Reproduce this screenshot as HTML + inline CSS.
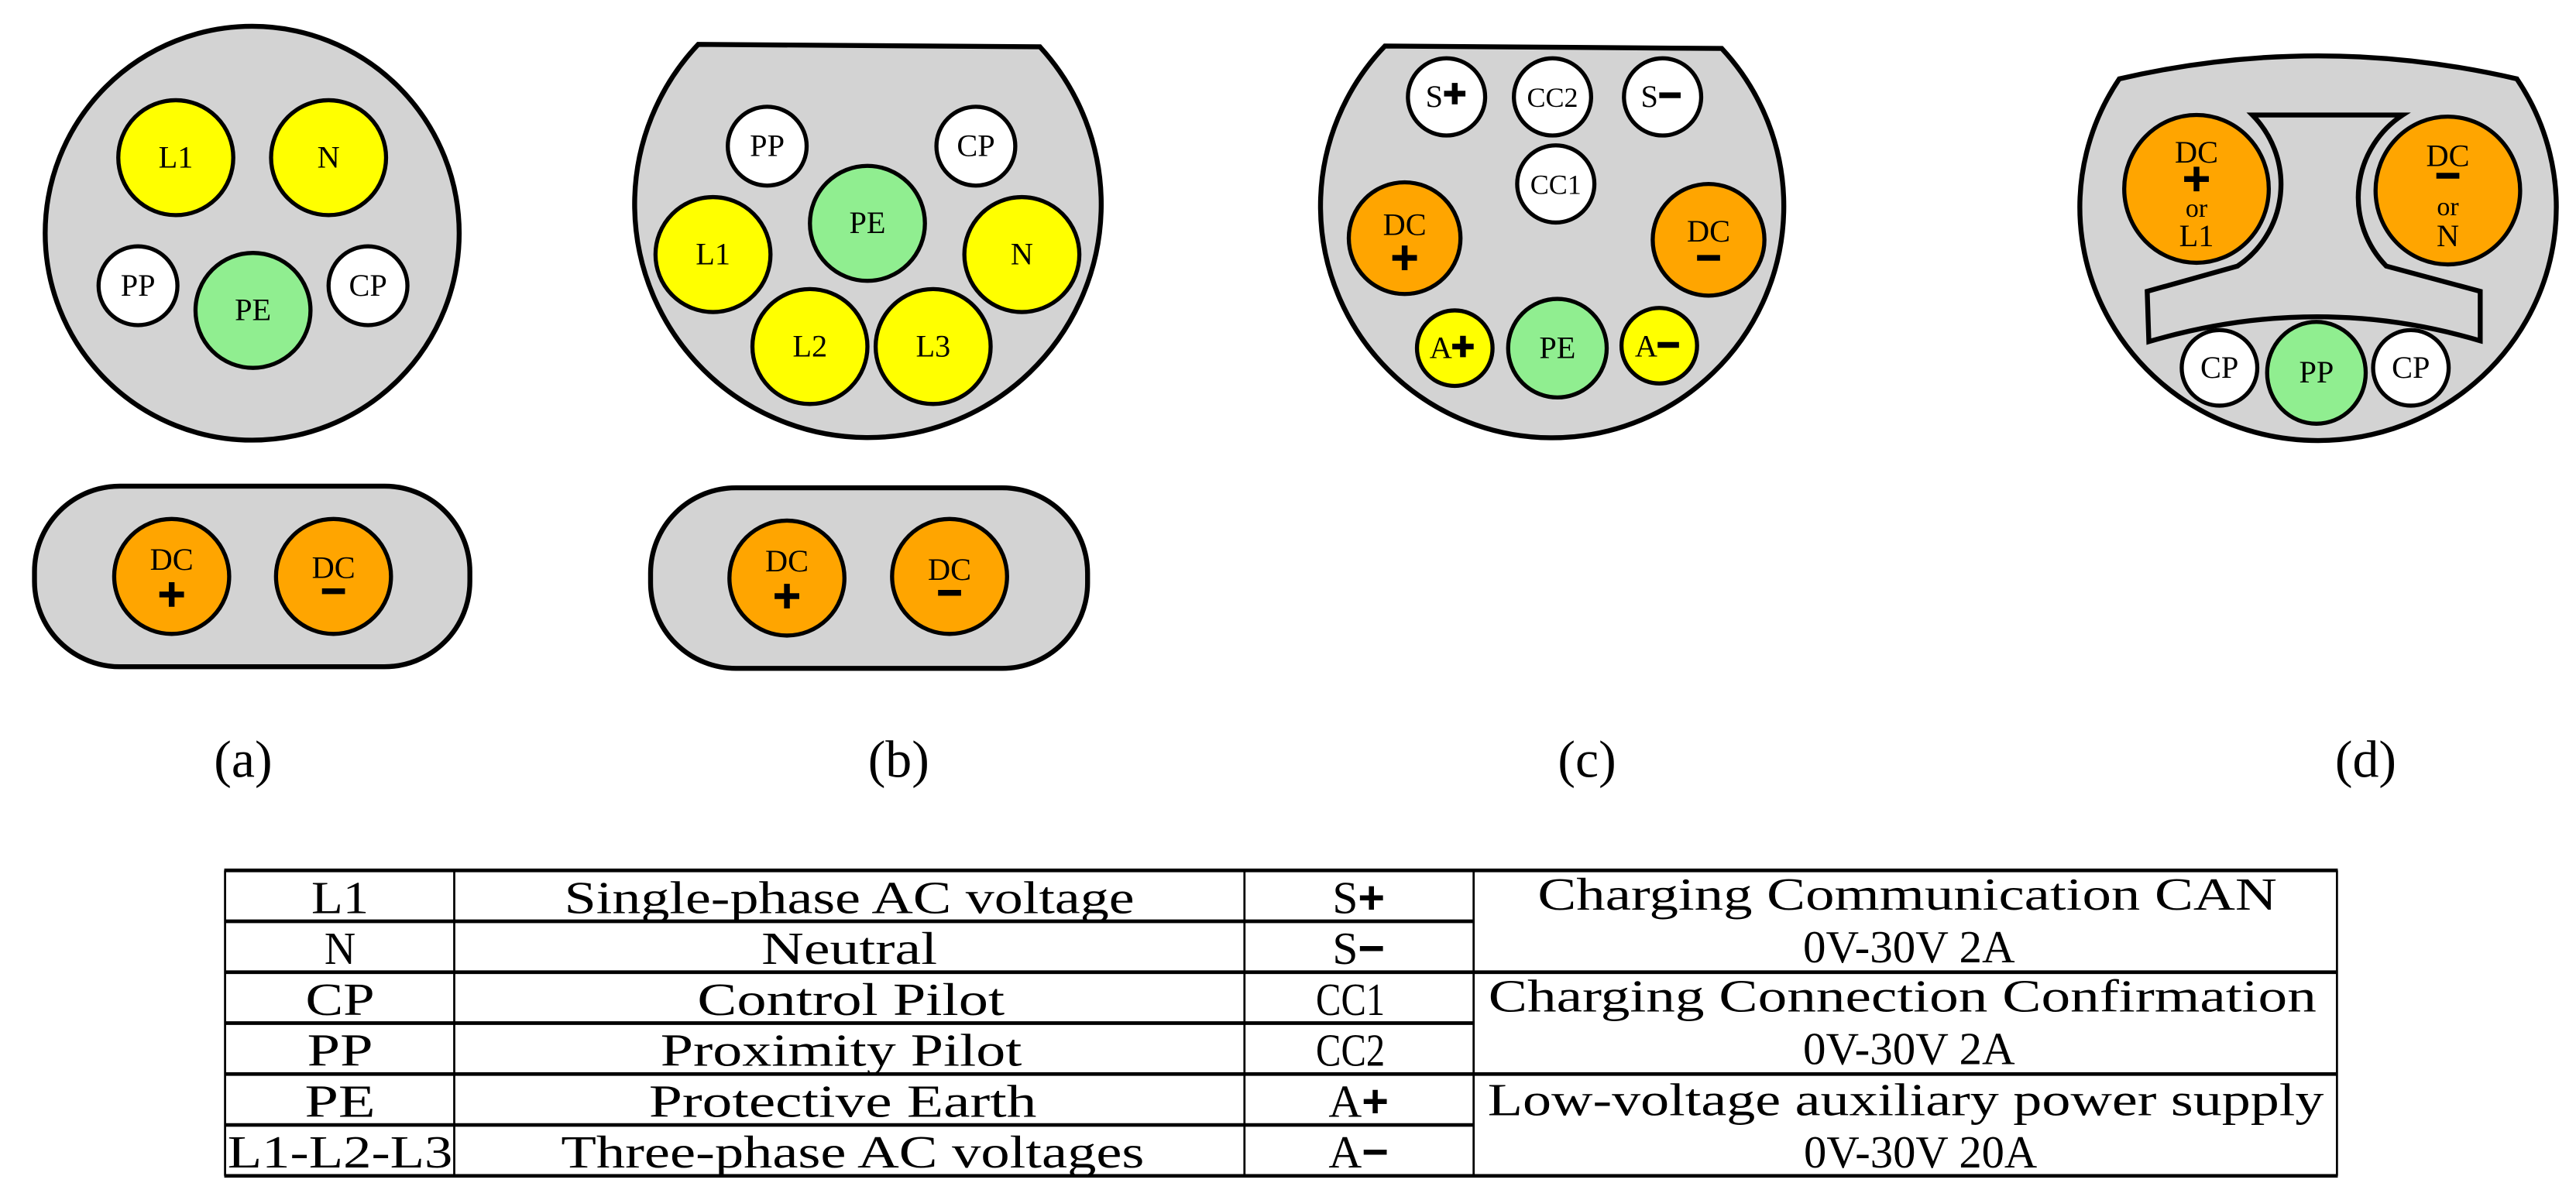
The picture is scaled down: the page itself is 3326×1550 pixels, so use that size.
<!DOCTYPE html>
<html><head><meta charset="utf-8"><style>
html,body{margin:0;padding:0;background:#fff}
svg{display:block}
text{font-family:"Liberation Serif",serif;fill:#000}
</style></head><body>
<svg width="3326" height="1550" viewBox="0 0 1568 730.7" xmlns="http://www.w3.org/2000/svg">
<g stroke="#000" stroke-width="3">
<circle cx="153.5" cy="142" r="126" fill="#d3d3d3"/>
<rect x="21" y="296" width="265" height="110" rx="52" ry="52" fill="#d3d3d3"/>
<path d="M425 27 L633 28.5 A142 142 0 1 1 425 27 Z" fill="#d3d3d3"/>
<rect x="396" y="297" width="266" height="110" rx="52" ry="52" fill="#d3d3d3"/>
<path d="M843 28 L1048 29.5 A141 141 0 1 1 843 28 Z" fill="#d3d3d3"/>
<path d="M1290 48 Q1411 20 1532 48 A145 142 0 1 1 1290 48 Z" fill="#d3d3d3"/>
<path d="M1371 70 L1462.5 70 A60 60 0 0 0 1452.5 162 L1509.7 177.4 L1509.7 207.5 Q1410 178 1308 208 L1307 177.4 L1362 162 A60 60 0 0 0 1371 70 Z" fill="#d3d3d3"/>
</g>
<g stroke="#000" stroke-width="2.5">
<circle cx="107" cy="96" r="35" fill="#ffff00"/>
<circle cx="200" cy="96" r="35" fill="#ffff00"/>
<circle cx="84" cy="174" r="24" fill="#fff"/>
<circle cx="154" cy="189" r="35" fill="#90ee90"/>
<circle cx="224" cy="174" r="24" fill="#fff"/>
<circle cx="104.5" cy="351" r="35" fill="#ffa500"/>
<circle cx="203" cy="351" r="35" fill="#ffa500"/>
<circle cx="467" cy="89" r="24" fill="#fff"/>
<circle cx="594" cy="89" r="24" fill="#fff"/>
<circle cx="528" cy="136" r="35" fill="#90ee90"/>
<circle cx="434" cy="155" r="35" fill="#ffff00"/>
<circle cx="622" cy="155" r="35" fill="#ffff00"/>
<circle cx="493" cy="211" r="35" fill="#ffff00"/>
<circle cx="568" cy="211" r="35" fill="#ffff00"/>
<circle cx="479" cy="352" r="35" fill="#ffa500"/>
<circle cx="578" cy="351" r="35" fill="#ffa500"/>
<circle cx="880.5" cy="59" r="23.5" fill="#fff"/>
<circle cx="945" cy="59" r="23.5" fill="#fff"/>
<circle cx="1012" cy="59" r="23.5" fill="#fff"/>
<circle cx="947" cy="112" r="23.5" fill="#fff"/>
<circle cx="855" cy="145" r="34" fill="#ffa500"/>
<circle cx="1040" cy="146" r="34" fill="#ffa500"/>
<circle cx="885.5" cy="212" r="23" fill="#ffff00"/>
<circle cx="948" cy="212" r="30" fill="#90ee90"/>
<circle cx="1010" cy="210.5" r="23" fill="#ffff00"/>
<ellipse cx="1337" cy="115" rx="44" ry="45" fill="#ffa500"/>
<ellipse cx="1490" cy="116" rx="44" ry="45" fill="#ffa500"/>
<circle cx="1351" cy="224" r="23" fill="#fff"/>
<circle cx="1467.5" cy="224" r="23" fill="#fff"/>
<ellipse cx="1410" cy="227" rx="30" ry="31" fill="#90ee90"/>
</g>
<g font-size="19" text-anchor="middle">
<text x="107" y="102">L1</text><text x="200" y="102">N</text>
<text x="84" y="180">PP</text><text x="154" y="195">PE</text><text x="224" y="180">CP</text>
<text x="104.5" y="347">DC</text><text x="203" y="352">DC</text>
<text x="467" y="95">PP</text><text x="594" y="95">CP</text><text x="528" y="142">PE</text>
<text x="434" y="161">L1</text><text x="622" y="161">N</text>
<text x="493" y="217">L2</text><text x="568" y="217">L3</text>
<text x="479" y="348">DC</text><text x="578" y="353">DC</text>
<text x="873" y="65">S</text><text x="945" y="65" font-size="17">CC2</text><text x="1004" y="65">S</text>
<text x="947" y="118" font-size="17">CC1</text>
<text x="855" y="143">DC</text><text x="1040" y="147">DC</text>
<text x="877" y="218">A</text><text x="948" y="218">PE</text><text x="1002" y="217">A</text>
<text x="1337" y="99">DC</text><text x="1337" y="132" font-size="16">or</text><text x="1337" y="150">L1</text>
<text x="1490" y="101">DC</text><text x="1490" y="131" font-size="16">or</text><text x="1490" y="150">N</text>
<text x="1351" y="230">CP</text><text x="1410" y="233">PP</text><text x="1467.5" y="230">CP</text>
</g>
<g stroke="#000" stroke-width="3.5" fill="none">
<path d="M97 362h15M104.5 354.5v15"/><path d="M196 360h14"/>
<path d="M471.5 363h15M479 355.5v15"/><path d="M571 361h14"/>
<path d="M879 57h13M885.5 50.5v13"/><path d="M1010 58h13"/>
<path d="M847.5 157h15M855 149.5v15"/><path d="M1033 157h14"/>
<path d="M884 211h13M890.5 204.5v13"/><path d="M1009 210h13"/>
<path d="M1329.5 109h15M1337 101.5v15"/><path d="M1483 107h14"/>
</g>
<g font-size="32" text-anchor="middle">
<text x="148" y="473">(a)</text><text x="547" y="473">(b)</text><text x="966" y="473">(c)</text><text x="1440" y="473">(d)</text>
</g>
<g stroke="#000">
<g stroke-width="2.2">
<line x1="136.5" y1="530" x2="1423" y2="530"/>
<line x1="136.5" y1="561" x2="897" y2="561"/>
<line x1="136.5" y1="592" x2="1423" y2="592"/>
<line x1="136.5" y1="623" x2="897" y2="623"/>
<line x1="136.5" y1="654" x2="1423" y2="654"/>
<line x1="136.5" y1="685" x2="897" y2="685"/>
<line x1="136.5" y1="716" x2="1423" y2="716"/>
</g>
<g stroke-width="1.3">
<line x1="137" y1="530" x2="137" y2="716"/>
<line x1="276.5" y1="530" x2="276.5" y2="716"/>
<line x1="757.5" y1="530" x2="757.5" y2="716"/>
<line x1="897" y1="530" x2="897" y2="716"/>
<line x1="1422.5" y1="530" x2="1422.5" y2="716"/>
</g>
</g>
<g font-size="28" text-anchor="middle" lengthAdjust="spacingAndGlyphs">
<text x="207" y="556" textLength="35" lengthAdjust="spacingAndGlyphs">L1</text>
<text x="517" y="556" textLength="347" lengthAdjust="spacingAndGlyphs">Single-phase AC voltage</text>
<text x="207" y="587" textLength="19" lengthAdjust="spacingAndGlyphs">N</text>
<text x="517" y="587" textLength="107" lengthAdjust="spacingAndGlyphs">Neutral</text>
<text x="207" y="618" textLength="42" lengthAdjust="spacingAndGlyphs">CP</text>
<text x="518" y="618" textLength="187" lengthAdjust="spacingAndGlyphs">Control Pilot</text>
<text x="207" y="649" textLength="40" lengthAdjust="spacingAndGlyphs">PP</text>
<text x="512" y="649" textLength="220" lengthAdjust="spacingAndGlyphs">Proximity Pilot</text>
<text x="207" y="680" textLength="43" lengthAdjust="spacingAndGlyphs">PE</text>
<text x="513" y="680" textLength="236" lengthAdjust="spacingAndGlyphs">Protective Earth</text>
<text x="207" y="711" textLength="137" lengthAdjust="spacingAndGlyphs">L1-L2-L3</text>
<text x="519" y="711" textLength="355" lengthAdjust="spacingAndGlyphs">Three-phase AC voltages</text>
<text x="827" y="556">S<tspan font-family="Liberation Sans" font-weight="bold">+</tspan></text>
<text x="827" y="587">S<tspan font-family="Liberation Sans" font-weight="bold">−</tspan></text>
<text x="822" y="618" textLength="42" lengthAdjust="spacingAndGlyphs">CC1</text>
<text x="822" y="649" textLength="42" lengthAdjust="spacingAndGlyphs">CC2</text>
<text x="827" y="680">A<tspan font-family="Liberation Sans" font-weight="bold">+</tspan></text>
<text x="827" y="711">A<tspan font-family="Liberation Sans" font-weight="bold">−</tspan></text>
<text x="1161" y="554" textLength="450" lengthAdjust="spacingAndGlyphs">Charging Communication CAN</text>
<text x="1162" y="586" textLength="129" lengthAdjust="spacingAndGlyphs">0V-30V 2A</text>
<text x="1158" y="616" textLength="504" lengthAdjust="spacingAndGlyphs">Charging Connection Confirmation</text>
<text x="1162" y="648" textLength="129" lengthAdjust="spacingAndGlyphs">0V-30V 2A</text>
<text x="1160" y="679" textLength="509" lengthAdjust="spacingAndGlyphs">Low-voltage auxiliary power supply</text>
<text x="1169" y="711" textLength="142" lengthAdjust="spacingAndGlyphs">0V-30V 20A</text>
</g>
</svg>
</body></html>
